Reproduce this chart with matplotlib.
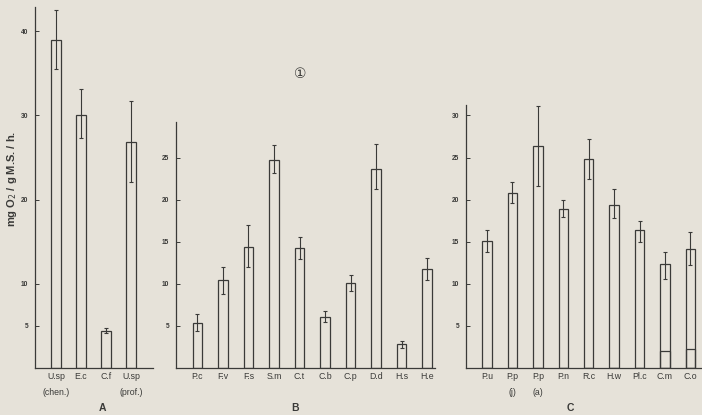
import numpy as np
import matplotlib
matplotlib.use('Agg')
import matplotlib.pyplot as plt

plt.rcParams['font.family'] = ['Liberation Sans', 'DejaVu Sans', 'Noto Sans CJK SC']

# Panel A
a_labels = ['U.sp\n(chen.)', 'E.c', 'C.f', 'U.sp\n(prof.)']
a_vals = [38.9, 30.0, 4.4, 26.9]
a_hi = [42.5, 33.1, 4.8, 31.7]
a_lo = [35.5, 27.3, 4.1, 22.1]
a_ticks = [5, 10, 20, 30, 40]

# Panel B
b_labels = ['P.c', 'F.v', 'F.s', 'S.m', 'C.t', 'C.b', 'C.p', 'D.d', 'H.s', 'H.e']
b_vals = [5.4, 10.4, 14.4, 24.7, 14.3, 6.1, 10.1, 23.6, 2.8, 11.8]
b_hi = [6.4, 12.0, 17.0, 26.5, 15.5, 6.8, 11.1, 26.6, 3.2, 13.1]
b_lo = [4.4, 8.8, 12.0, 23.1, 13.0, 5.5, 9.1, 21.2, 2.4, 10.5]
b_ticks = [5, 10, 15, 20, 25]

# Panel C
c_labels = ['P.u', 'P.p\n(j)', 'P.p\n(a)', 'P.n', 'R.c', 'H.w', 'Pl.c', 'C.m', 'C.o']
c_vals = [15.1, 20.8, 26.4, 18.9, 24.8, 19.4, 16.4, 12.3, 14.1]
c_hi = [16.4, 22.1, 31.1, 20.0, 27.2, 21.2, 17.5, 13.8, 16.1]
c_lo = [13.8, 19.6, 21.6, 17.9, 22.4, 17.8, 15.0, 10.6, 12.2]
c_inner = [0, 0, 0, 0, 0, 0, 0, 2.0, 2.3]
c_ticks = [5, 10, 15, 20, 25, 30]

W, H = 702, 415
bg = '#e6e2d9'
ink = '#3a3a38'

fig = plt.figure(figsize=(W / 100, H / 100), dpi=100, facecolor=bg)


def panel(left, right, top, xlim, labels, vals, hi, lo, ticks, inner=None):
    base = 368
    ax = fig.add_axes([left / W, 1 - base / H, (right - left) / W, (base - top) / H])
    ax.set_facecolor('none')
    ymax = (base - top) / 8.42
    x = np.arange(len(vals))
    ax.bar(x, vals, width=0.37, color='none', edgecolor=ink, linewidth=0.9)
    if inner is not None:
        ax.bar(x, inner, width=0.37, color='none', edgecolor=ink, linewidth=0.9)
    v = np.array(vals)
    ax.errorbar(x, v, yerr=[v - np.array(lo), np.array(hi) - v], fmt='none',
                ecolor=ink, elinewidth=0.8, capsize=1.5, capthick=0.8)
    ax.set_xlim(*xlim)
    ax.set_ylim(0, ymax)
    for s in ['top', 'right']:
        ax.spines[s].set_visible(False)
    for s in ['left', 'bottom']:
        ax.spines[s].set_color(ink)
        ax.spines[s].set_linewidth(0.9)
    ax.set_yticks(ticks)
    ax.set_yticklabels([str(t) for t in ticks], fontsize=4.8, fontweight='bold', color=ink)
    ax.tick_params(axis='y', direction='in', length=3, width=0.7, color=ink, pad=5)
    ax.set_xticks(x)
    ax.set_xticklabels(labels, fontsize=6.3, color=ink, linespacing=2.0, va='top')
    ax.tick_params(axis='x', length=0, pad=3)
    return ax


panel(35, 153, 7, (-0.84, 3.88), a_labels, a_vals, a_hi, a_lo, a_ticks)
panel(176, 435, 122, (-0.84, 9.31), b_labels, b_vals, b_hi, b_lo, b_ticks)
panel(466, 702, 105, (-0.83, 8.46), c_labels, c_vals, c_hi, c_lo, c_ticks, inner=c_inner)

fig.text(102 / W, 1 - 408 / H, 'A', ha='center', va='center', fontsize=7.5, color=ink, fontweight='bold')
fig.text(295 / W, 1 - 408 / H, 'B', ha='center', va='center', fontsize=7.5, color=ink, fontweight='bold')
fig.text(570 / W, 1 - 408 / H, 'C', ha='center', va='center', fontsize=7.5, color=ink, fontweight='bold')
fig.text(300 / W, 1 - 74 / H, '\u2460', ha='center', va='center', fontsize=10, color=ink,
         family=['DejaVu Sans', 'Noto Sans CJK SC'])
fig.text(12 / W, 1 - 179 / H, 'mg O$_2$ / g M.S. / h.', rotation=90, ha='center', va='center',
         fontsize=8, color=ink, fontweight='bold')

fig.savefig('out.png', dpi=100, facecolor=bg)
